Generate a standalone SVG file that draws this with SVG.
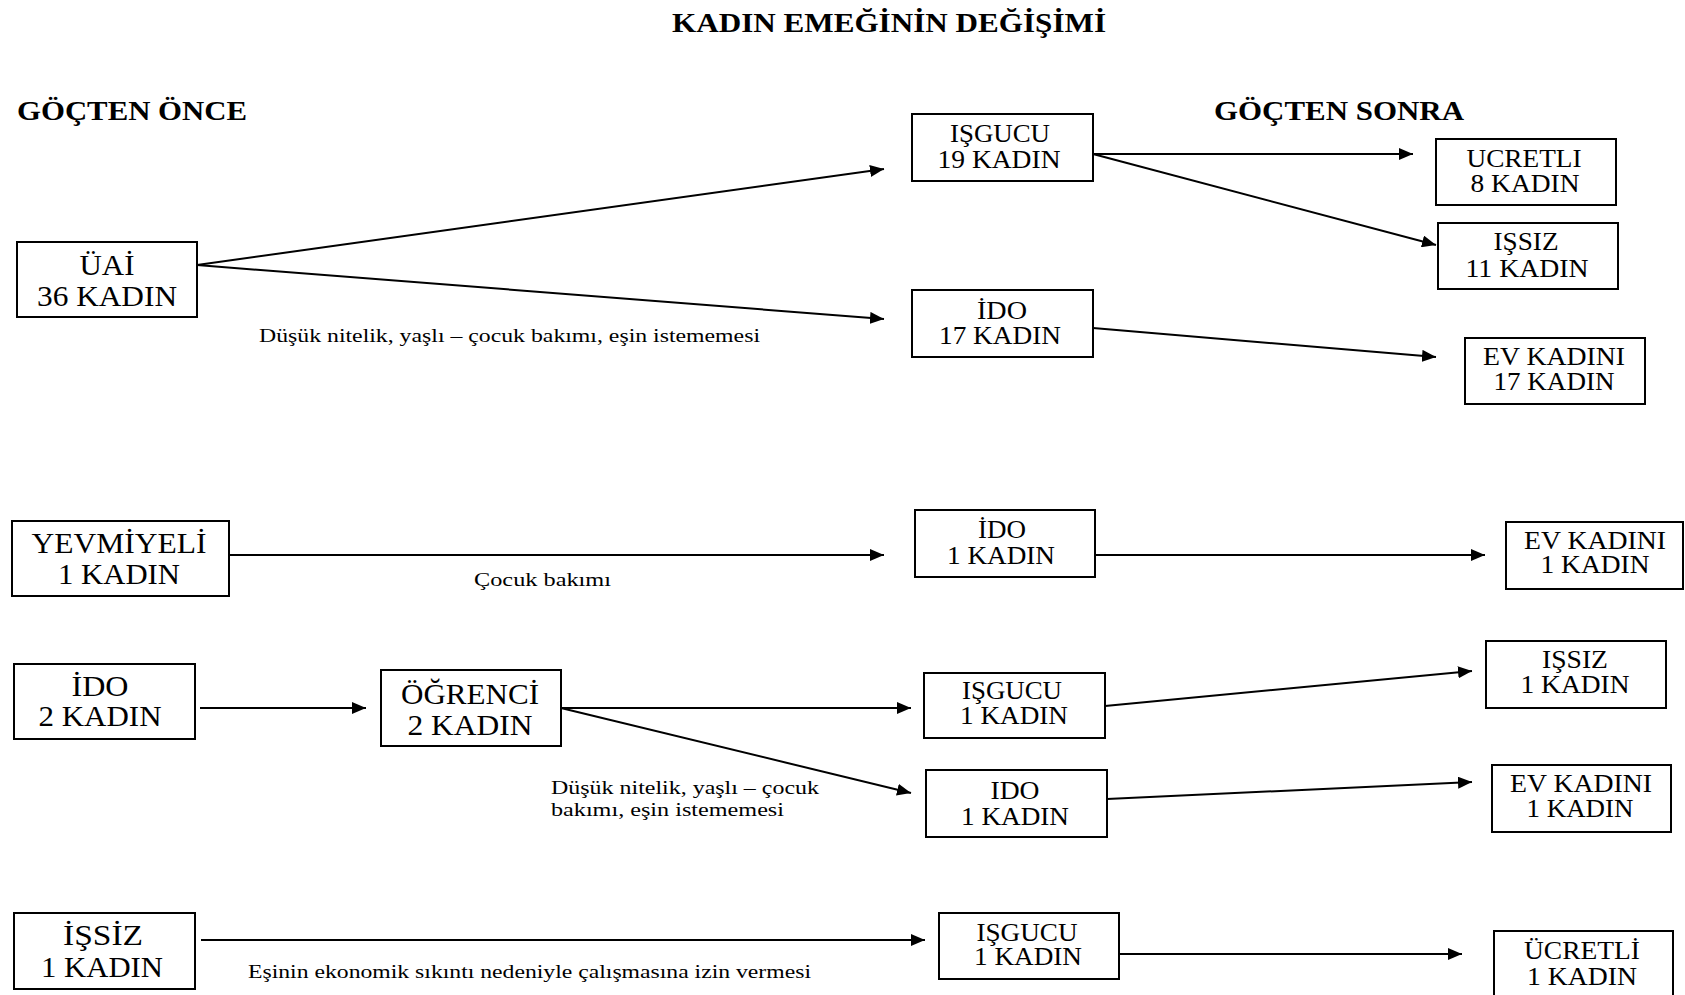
<svg xmlns="http://www.w3.org/2000/svg" width="1685" height="995" viewBox="0 0 1685 995">
<style>
.bg{fill:#fff}
.box{fill:#fff;stroke:#000;stroke-width:2}
.t{font-family:"Liberation Serif","Times New Roman",serif;fill:#000;text-anchor:middle}
.big{font-size:30px}
.sm{font-size:25px}
.hd{font-family:"Liberation Serif","Times New Roman",serif;font-weight:bold;fill:#000;font-size:27px}
.lbl{font-family:"Liberation Serif","Times New Roman",serif;fill:#000;font-size:18px}
.ln{stroke:#000;stroke-width:2;fill:none;marker-end:url(#ah)}
</style>
<defs>
<marker id="ah" markerUnits="userSpaceOnUse" markerWidth="15" markerHeight="12" refX="14" refY="6" orient="auto">
<path d="M0,0 L14,6 L0,12 z" fill="#000"/>
</marker>
</defs>
<rect class="bg" x="0" y="0" width="1685" height="995"/>
<g id="headings">
<text class="hd" x="672" y="32" textLength="434" lengthAdjust="spacingAndGlyphs">KADIN EMEĞİNİN DEĞİŞİMİ</text>
<text class="hd" x="17" y="120" textLength="230" lengthAdjust="spacingAndGlyphs">GÖÇTEN ÖNCE</text>
<text class="hd" x="1214" y="120" textLength="250" lengthAdjust="spacingAndGlyphs">GÖÇTEN SONRA</text>
</g>
<g id="connectors">
<line class="ln" x1="197" y1="265" x2="884" y2="169"/>
<line class="ln" x1="197" y1="265" x2="884" y2="319"/>
<line class="ln" x1="1093" y1="154" x2="1413" y2="154"/>
<line class="ln" x1="1093" y1="154" x2="1436" y2="245"/>
<line class="ln" x1="1093" y1="328" x2="1436" y2="357"/>
<line class="ln" x1="229" y1="555" x2="884" y2="555"/>
<line class="ln" x1="1095" y1="555" x2="1485" y2="555"/>
<line class="ln" x1="200" y1="708" x2="366" y2="708"/>
<line class="ln" x1="561" y1="708" x2="911" y2="708"/>
<line class="ln" x1="561" y1="708" x2="911" y2="793"/>
<line class="ln" x1="1105" y1="706" x2="1472" y2="671"/>
<line class="ln" x1="1107" y1="799" x2="1472" y2="782"/>
<line class="ln" x1="201" y1="940" x2="925" y2="940"/>
<line class="ln" x1="1119" y1="954" x2="1462" y2="954"/>
<text class="lbl" x="259" y="342" textLength="501" lengthAdjust="spacingAndGlyphs">Düşük nitelik, yaşlı – çocuk bakımı, eşin istememesi</text>
<text class="lbl" x="474" y="586" textLength="137" lengthAdjust="spacingAndGlyphs">Çocuk bakımı</text>
<text class="lbl" x="551" y="794" textLength="268" lengthAdjust="spacingAndGlyphs">Düşük nitelik, yaşlı – çocuk</text>
<text class="lbl" x="551" y="816" textLength="233" lengthAdjust="spacingAndGlyphs">bakımı, eşin istememesi</text>
<text class="lbl" x="248" y="978" textLength="563" lengthAdjust="spacingAndGlyphs">Eşinin ekonomik sıkıntı nedeniyle çalışmasına izin vermesi</text>
</g>
<g id="n-uai">
<rect class="box" x="17" y="242" width="180" height="75"/>
<text class="t big" x="107" y="275" textLength="55" lengthAdjust="spacingAndGlyphs">ÜAİ</text>
<text class="t big" x="107" y="306" textLength="140" lengthAdjust="spacingAndGlyphs">36 KADIN</text>
</g>
<g id="n-isgucu19">
<rect class="box" x="912" y="114" width="181" height="67"/>
<text class="t sm" x="1000" y="142" textLength="100" lengthAdjust="spacingAndGlyphs">IŞGUCU</text>
<text class="t sm" x="999" y="168" textLength="123" lengthAdjust="spacingAndGlyphs">19 KADIN</text>
</g>
<g id="n-ido17">
<rect class="box" x="912" y="290" width="181" height="67"/>
<text class="t sm" x="1002" y="319" textLength="50" lengthAdjust="spacingAndGlyphs">İDO</text>
<text class="t sm" x="1000" y="344" textLength="122" lengthAdjust="spacingAndGlyphs">17 KADIN</text>
</g>
<g id="n-ucretli8">
<rect class="box" x="1436" y="139" width="180" height="66"/>
<text class="t sm" x="1524" y="167" textLength="115" lengthAdjust="spacingAndGlyphs">UCRETLI</text>
<text class="t sm" x="1525" y="192" textLength="109" lengthAdjust="spacingAndGlyphs">8 KADIN</text>
</g>
<g id="n-issiz11">
<rect class="box" x="1438" y="223" width="180" height="66"/>
<text class="t sm" x="1526" y="250" textLength="65" lengthAdjust="spacingAndGlyphs">IŞSIZ</text>
<text class="t sm" x="1527" y="277" textLength="123" lengthAdjust="spacingAndGlyphs">11 KADIN</text>
</g>
<g id="n-evkadini17">
<rect class="box" x="1465" y="338" width="180" height="66"/>
<text class="t sm" x="1554" y="365" textLength="142" lengthAdjust="spacingAndGlyphs">EV KADINI</text>
<text class="t sm" x="1554" y="390" textLength="121" lengthAdjust="spacingAndGlyphs">17 KADIN</text>
</g>
<g id="n-yevmiyeli">
<rect class="box" x="12" y="521" width="217" height="75"/>
<text class="t big" x="119" y="553" textLength="175" lengthAdjust="spacingAndGlyphs">YEVMİYELİ</text>
<text class="t big" x="119" y="584" textLength="122" lengthAdjust="spacingAndGlyphs">1 KADIN</text>
</g>
<g id="n-ido1">
<rect class="box" x="915" y="510" width="180" height="67"/>
<text class="t sm" x="1002" y="538" textLength="48" lengthAdjust="spacingAndGlyphs">İDO</text>
<text class="t sm" x="1001" y="564" textLength="108" lengthAdjust="spacingAndGlyphs">1 KADIN</text>
</g>
<g id="n-evkadini1a">
<rect class="box" x="1506" y="522" width="177" height="67"/>
<text class="t sm" x="1595" y="549" textLength="142" lengthAdjust="spacingAndGlyphs">EV KADINI</text>
<text class="t sm" x="1595" y="573" textLength="109" lengthAdjust="spacingAndGlyphs">1 KADIN</text>
</g>
<g id="n-ido2">
<rect class="box" x="14" y="664" width="181" height="75"/>
<text class="t big" x="100" y="696" textLength="57" lengthAdjust="spacingAndGlyphs">İDO</text>
<text class="t big" x="100" y="726" textLength="123" lengthAdjust="spacingAndGlyphs">2 KADIN</text>
</g>
<g id="n-ogrenci">
<rect class="box" x="381" y="670" width="180" height="76"/>
<text class="t big" x="470" y="704" textLength="138" lengthAdjust="spacingAndGlyphs">ÖĞRENCİ</text>
<text class="t big" x="470" y="735" textLength="125" lengthAdjust="spacingAndGlyphs">2 KADIN</text>
</g>
<g id="n-isgucu1a">
<rect class="box" x="924" y="673" width="181" height="65"/>
<text class="t sm" x="1012" y="699" textLength="100" lengthAdjust="spacingAndGlyphs">IŞGUCU</text>
<text class="t sm" x="1014" y="724" textLength="108" lengthAdjust="spacingAndGlyphs">1 KADIN</text>
</g>
<g id="n-ido1b">
<rect class="box" x="926" y="770" width="181" height="67"/>
<text class="t sm" x="1015" y="799" textLength="49" lengthAdjust="spacingAndGlyphs">IDO</text>
<text class="t sm" x="1015" y="825" textLength="108" lengthAdjust="spacingAndGlyphs">1 KADIN</text>
</g>
<g id="n-issiz1">
<rect class="box" x="1486" y="641" width="180" height="67"/>
<text class="t sm" x="1575" y="668" textLength="66" lengthAdjust="spacingAndGlyphs">IŞSIZ</text>
<text class="t sm" x="1575" y="693" textLength="109" lengthAdjust="spacingAndGlyphs">1 KADIN</text>
</g>
<g id="n-evkadini1b">
<rect class="box" x="1492" y="765" width="179" height="67"/>
<text class="t sm" x="1581" y="792" textLength="142" lengthAdjust="spacingAndGlyphs">EV KADINI</text>
<text class="t sm" x="1580" y="817" textLength="107" lengthAdjust="spacingAndGlyphs">1 KADIN</text>
</g>
<g id="n-issiz-once">
<rect class="box" x="14" y="913" width="181" height="76"/>
<text class="t big" x="103" y="945" textLength="80" lengthAdjust="spacingAndGlyphs">İŞSİZ</text>
<text class="t big" x="102" y="977" textLength="122" lengthAdjust="spacingAndGlyphs">1 KADIN</text>
</g>
<g id="n-isgucu1b">
<rect class="box" x="939" y="913" width="180" height="66"/>
<text class="t sm" x="1027" y="941" textLength="101" lengthAdjust="spacingAndGlyphs">IŞGUCU</text>
<text class="t sm" x="1028" y="965" textLength="108" lengthAdjust="spacingAndGlyphs">1 KADIN</text>
</g>
<g id="n-ucretli1">
<rect class="box" x="1494" y="931" width="179" height="80"/>
<text class="t sm" x="1582" y="959" textLength="116" lengthAdjust="spacingAndGlyphs">ÜCRETLİ</text>
<text class="t sm" x="1582" y="985" textLength="110" lengthAdjust="spacingAndGlyphs">1 KADIN</text>
</g>
</svg>
